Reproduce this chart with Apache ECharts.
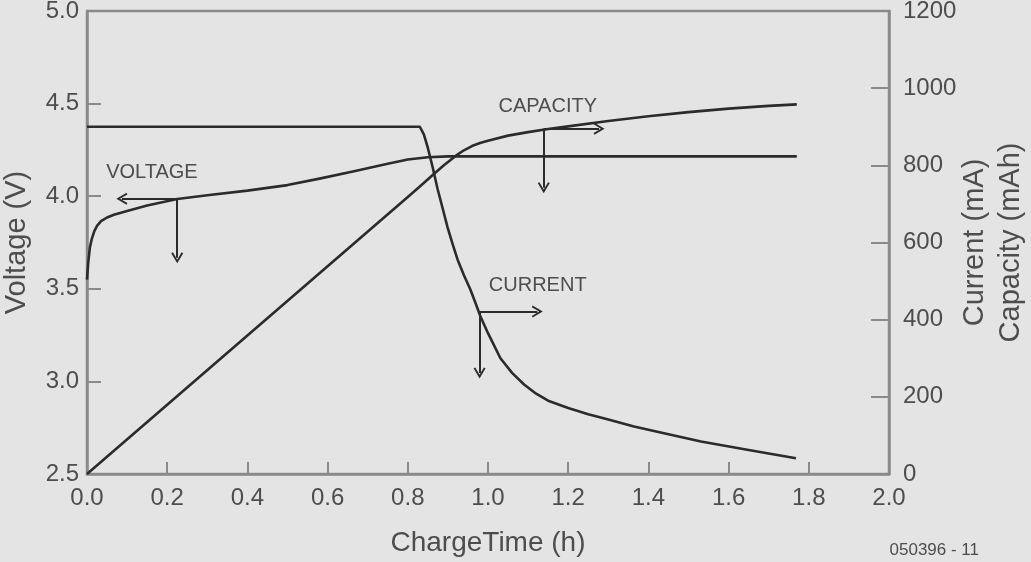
<!DOCTYPE html>
<html>
<head>
<meta charset="utf-8">
<script src="https://cdn.jsdelivr.net/npm/echarts@6/dist/echarts.min.js"></script>
<style>
html,body{margin:0;padding:0;background:#e4e4e4;}
#c{width:1031px;height:562px;}
</style>
</head>
<body>
<div id="c"></div>
<script>
// ---- data ----
var xTicks = [0.0, 0.2, 0.4, 0.6, 0.8, 1.0, 1.2, 1.4, 1.6, 1.8, 2.0];
var voltTicks = [2.5, 3.0, 3.5, 4.0, 4.5, 5.0];
var rightTicks = [0, 200, 400, 600, 800, 1000, 1200];

var timeV   = [0, 0.003, 0.007, 0.012, 0.018, 0.025, 0.035, 0.05, 0.067, 0.1, 0.15, 0.225, 0.3, 0.4, 0.5, 0.58, 0.666, 0.75, 0.8, 0.85, 0.9, 1.77];
var voltage = [3.55, 3.64, 3.72, 3.77, 3.81, 3.84, 3.865, 3.885, 3.90, 3.92, 3.95, 3.985, 4.005, 4.03, 4.06, 4.095, 4.135, 4.175, 4.198, 4.21, 4.215, 4.215];

var timeC   = [0, 0.83, 0.84, 0.85, 0.862, 0.874, 0.887, 0.899, 0.912, 0.924, 0.94, 0.956, 0.97, 0.981, 1.0, 1.031, 1.06, 1.09, 1.12, 1.15, 1.2, 1.25, 1.3, 1.364, 1.45, 1.531, 1.65, 1.768];
var current = [900, 900, 880, 845, 795, 740, 688, 640, 595, 556, 515, 478, 440, 409, 365, 300, 262, 232, 208, 190, 171, 155, 141, 123, 103, 84, 62, 41];

var timeQ    = [0, 0.8, 0.83, 0.86, 0.89, 0.92, 0.94, 0.96, 0.98, 1.0, 1.05, 1.1, 1.15, 1.2, 1.3, 1.4, 1.5, 1.6, 1.7, 1.77];
var capacity = [0, 718, 745, 773, 800, 825, 839, 850, 858, 864, 877, 886, 894, 901, 915, 927, 938, 947, 954, 958];

// annotation labels: [text, x, y]
var voltLabel = ['VOLTAGE', 0.162, 4.129];
var capLabel  = ['CAPACITY', 1.149, 953];
var curLabel  = ['CURRENT', 1.124, 488];
// annotation arrows: origin x, origin y, horizontal tip x, vertical tip y
var voltArrow = [0.225, 3.986, 0.087, 3.667];
var capArrow  = [1.139, 895, 1.277, 742];
var curArrow  = [0.979, 421, 1.123, 262];

var footer = '050396 - 11';

// ---- build ----
function zip(a, b){ return a.map(function(v,i){ return [v, b[i]]; }); }
var LINE = '#2b2b2b', AXIS = '#8a8a8a', TXT = '#4d4d4d';
var FONT = '"Liberation Sans", Arial, sans-serif';
var chevron = 'path://M0,10 L5,0 L10,10 L8.6,10.8 L5,3.6 L1.4,10.8 Z';

function arrows(a){
  return {
    silent: true, symbol: ['none', chevron], symbolSize: [12, 11],
    label: {show:false},
    lineStyle: {color: LINE, width: 2, type: 'solid'},
    emphasis: {disabled: true},
    data: [
      [{coord:[a[0], a[1]]}, {coord:[a[2], a[1]]}],
      [{coord:[a[0], a[1]]}, {coord:[a[0], a[3]]}]
    ]
  };
}
function label(l){
  return {
    silent: true, symbol: 'rect', symbolSize: 1,
    itemStyle: {color: 'rgba(0,0,0,0)'},
    label: {show: true, position: 'inside', formatter: l[0], color: TXT, fontSize: 20, fontFamily: FONT},
    data: [{coord: [l[1], l[2]]}]
  };
}
function series(name, x, y, axis, lab, arr){
  return {
    name: name, type: 'line', yAxisIndex: axis, data: zip(x, y),
    showSymbol: false, smooth: false,
    lineStyle: {color: LINE, width: 2.6, join: 'round'}, itemStyle: {color: LINE},
    markPoint: label(lab), markLine: arrows(arr), z: 3
  };
}

var chart = echarts.init(document.getElementById('c'));
chart.setOption({
  animation: false,
  backgroundColor: '#e4e4e4',
  textStyle: {fontFamily: FONT},
  grid: {left: 87, right: 142, top: 11, bottom: 88, outerBoundsMode: 'none', containLabel: false,
         show: true, borderColor: AXIS, borderWidth: 2.5, backgroundColor: 'transparent'},
  xAxis: {
    type: 'value', min: xTicks[0], max: xTicks[xTicks.length-1], interval: 0.2,
    name: 'ChargeTime (h)', nameLocation: 'middle', nameGap: 55, nameMoveOverlap: false,
    nameTextStyle: {fontSize: 28, color: TXT, fontFamily: FONT},
    axisLine: {show: true, lineStyle: {color: AXIS, width: 2.5}},
    axisTick: {show: true, inside: true, length: 12, lineStyle: {color: AXIS, width: 2}},
    axisLabel: {fontSize: 24, color: TXT, margin: 12, fontFamily: FONT, formatter: function(v){ return v.toFixed(1); }},
    splitLine: {show: false}
  },
  yAxis: [{
    type: 'value', position: 'left', min: voltTicks[0], max: voltTicks[voltTicks.length-1], interval: 0.5,
    name: 'Voltage (V)', nameLocation: 'middle', nameGap: 56, nameRotate: 90, nameMoveOverlap: false,
    nameTextStyle: {fontSize: 29, color: TXT, fontFamily: FONT},
    axisLine: {show: true, lineStyle: {color: AXIS, width: 2.5}},
    axisTick: {show: true, inside: true, length: 14, lineStyle: {color: AXIS, width: 2}},
    axisLabel: {fontSize: 24, color: TXT, margin: 8, fontFamily: FONT, formatter: function(v){ return v.toFixed(1); }},
    splitLine: {show: false}
  }, {
    type: 'value', position: 'right', min: rightTicks[0], max: rightTicks[rightTicks.length-1], interval: 200,
    name: 'Current (mA)\nCapacity (mAh)', nameLocation: 'middle', nameGap: 68, nameRotate: 90, nameMoveOverlap: false,
    nameTextStyle: {fontSize: 29, lineHeight: 36, color: TXT, fontFamily: FONT},
    axisLine: {show: true, lineStyle: {color: AXIS, width: 2.5}},
    axisTick: {show: true, inside: true, length: 18, lineStyle: {color: AXIS, width: 2}},
    axisLabel: {fontSize: 24, color: TXT, margin: 14, fontFamily: FONT, formatter: function(v){ return String(v); }},
    splitLine: {show: false}
  }],
  graphic: [{
    type: 'text', right: 52, bottom: 3,
    style: {text: footer, fontSize: 17, fill: TXT, fontFamily: FONT}
  }],
  series: [
    series('Voltage', timeV, voltage, 0, voltLabel, voltArrow),
    series('Current', timeC, current, 1, curLabel, curArrow),
    series('Capacity', timeQ, capacity, 1, capLabel, capArrow)
  ]
});
</script>
</body>
</html>
